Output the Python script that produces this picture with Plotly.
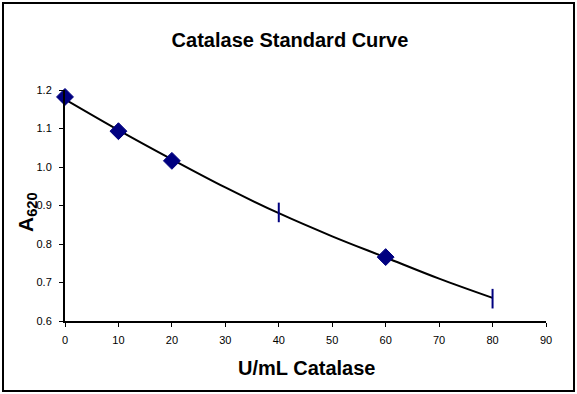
import plotly.graph_objects as go

# Data
diamond_x = [0, 10, 20, 60]
diamond_y = [1.182, 1.093, 1.016, 0.766]
bar_x = [40, 80]
bar_y = [0.882, 0.658]
trend_x = [0, 10, 20, 30, 40, 50, 60, 70, 80]
trend_y = [1.176, 1.096, 1.020, 0.947, 0.880, 0.820, 0.765, 0.710, 0.660]
x_ticks = [0, 10, 20, 30, 40, 50, 60, 70, 80, 90]
y_ticks = [0.6, 0.7, 0.8, 0.9, 1.0, 1.1, 1.2]

W, H = 577, 394
L, R, T, B = 65, 31, 90, 73
pw, ph = W - L - R, H - T - B

FONT = "Arial, Liberation Sans, sans-serif"
NAVY = "#000080"

fig = go.Figure()
fig.add_trace(go.Scatter(x=trend_x, y=trend_y, mode="lines", line=dict(color="black", width=2, shape="spline"),
                         hoverinfo="skip", showlegend=False))
fig.add_trace(go.Scatter(x=diamond_x, y=diamond_y, mode="markers",
                         marker=dict(symbol="diamond", size=13, color=NAVY, line=dict(color=NAVY, width=1)),
                         showlegend=False, cliponaxis=False))
fig.add_trace(go.Scatter(x=bar_x, y=bar_y, mode="markers",
                         marker=dict(symbol="line-ns-open", size=14, color=NAVY, line=dict(color=NAVY, width=2)),
                         showlegend=False, cliponaxis=False))

def px_to_paper_x(p):
    return (p - L) / pw

def px_to_paper_y(p):
    return (H - B - p) / ph

fig.add_shape(type="rect", xref="paper", yref="paper",
              x0=px_to_paper_x(3), x1=px_to_paper_x(574), y0=px_to_paper_y(391), y1=px_to_paper_y(3),
              line=dict(color="black", width=2))

fig.add_annotation(text="<b>U/mL Catalase</b>", xref="paper", yref="paper",
                   x=px_to_paper_x(306), y=px_to_paper_y(368), xanchor="center", yanchor="middle",
                   showarrow=False, font=dict(size=20, family=FONT, color="black"))
fig.add_annotation(text="<b>A<sub>620</sub></b>", xref="paper", yref="paper",
                   x=px_to_paper_x(27), y=px_to_paper_y(212), xanchor="center", yanchor="middle",
                   textangle=-90, showarrow=False, font=dict(size=21, family=FONT, color="black"))

fig.update_layout(
    width=W, height=H, margin=dict(l=L, r=R, t=T, b=B, autoexpand=False),
    paper_bgcolor="white", plot_bgcolor="white",
    font=dict(family=FONT, color="black", size=11),
    title=dict(text="<b>Catalase Standard Curve</b>", x=290 / W, xanchor="center", y=1 - 40 / H, yanchor="middle",
               font=dict(size=20, family=FONT)),
)
fig.update_xaxes(range=[0, 90], tickvals=x_ticks, ticktext=[str(v) for v in x_ticks],
                 showgrid=False, zeroline=False, showline=True, linecolor="black", linewidth=2,
                 ticks="outside", ticklen=4, tickwidth=1, tickcolor="black", automargin=False,
                 tickfont=dict(size=11, family=FONT), ticklabelstandoff=4)
fig.update_yaxes(range=[0.6, 1.2], tickvals=y_ticks, ticktext=[f"{v:.1f}" for v in y_ticks],
                 showgrid=False, zeroline=False, showline=True, linecolor="black", linewidth=2,
                 ticks="outside", ticklen=4, tickwidth=1, tickcolor="black", automargin=False,
                 tickfont=dict(size=11, family=FONT), ticklabelstandoff=5)

fig.write_html("out.html", config={"displayModeBar": False},
               post_script="document.body.style.margin='0';document.body.style.overflow='hidden';")
